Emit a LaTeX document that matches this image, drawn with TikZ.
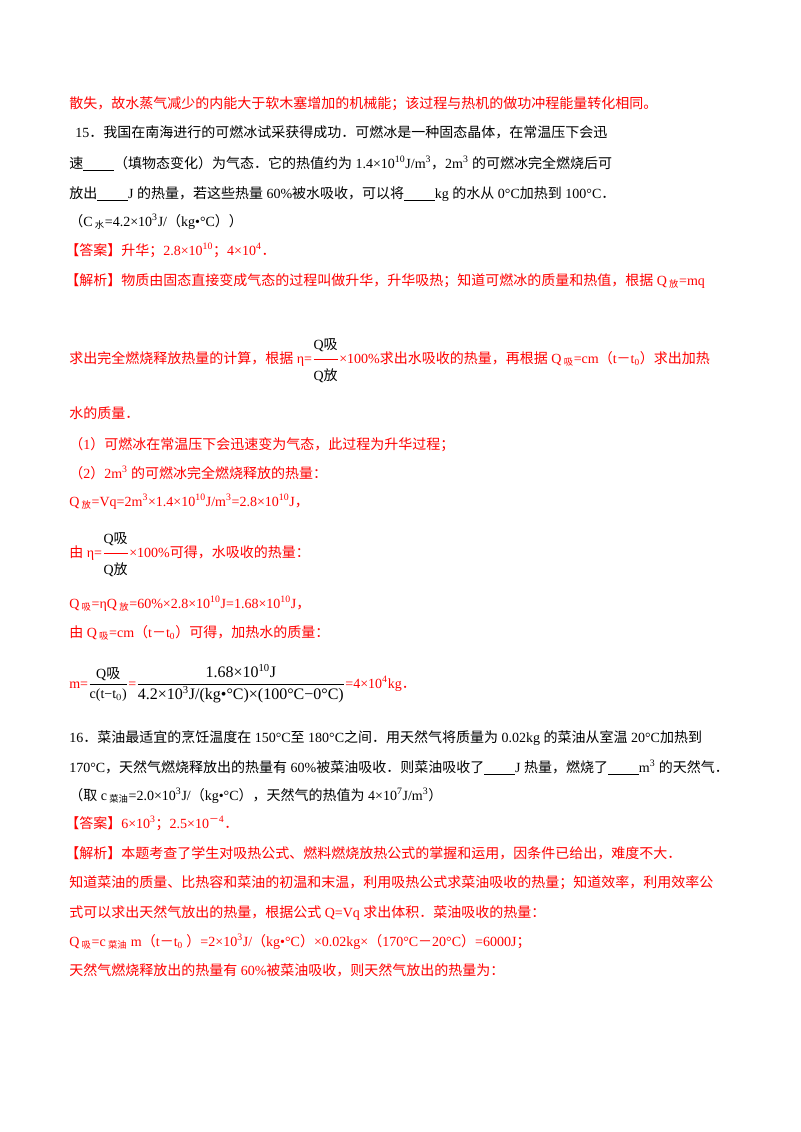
\documentclass[tikz,border=0pt]{standalone}
\usepackage{fontspec}
\usepackage{amsmath}
\setmainfont{Liberation Serif}
\newfontfamily\cjk{Noto Sans CJK SC}
% switch to the CJK font for CJK characters
\XeTeXinterchartokenstate=1
\newXeTeXintercharclass\CJKcls
\count255="3000
\loop\XeTeXcharclass\count255=\CJKcls\ifnum\count255<"9FFF\advance\count255 by 1\repeat
\count255="FF00
\loop\XeTeXcharclass\count255=\CJKcls\ifnum\count255<"FFEF\advance\count255 by 1\repeat
\XeTeXinterchartoks 0 \CJKcls={\begingroup\cjk}
\XeTeXinterchartoks 4095 \CJKcls={\begingroup\cjk}
\XeTeXinterchartoks \CJKcls 0={\endgroup}
\XeTeXinterchartoks \CJKcls 4095={\endgroup}
\newcommand\blank{\underline{\hspace{2.2em}}}
\newcommand\sub[1]{\textsubscript{\scriptsize #1}}
\newcommand\zh[1]{\mbox{#1}}
\begin{document}
\begin{tikzpicture}[x=0.75pt,y=-0.75pt,font=\fontsize{10.5}{12}\selectfont,
    line/.style={anchor=base west,inner sep=0pt},
    ans/.style={line,text=red}]
\useasboundingbox[fill=white] (0,0) rectangle (800,1132);
% question 15
\node[ans]  (a1)  at (69,108) {散失，故水蒸气减少的内能大于软木塞增加的机械能；该过程与热机的做功冲程能量转化相同。};
\node[line] (q1)  at (75,137) {15．我国在南海进行的可燃冰试采获得成功．可燃冰是一种固态晶体，在常温压下会迅};
\node[line] (q2)  at (69,168) {速\blank（填物态变化）为气态．它的热值约为 1.4×10\textsuperscript{10}J/m\textsuperscript{3}，2m\textsuperscript{3} 的可燃冰完全燃烧后可};
\node[line] (q3)  at (69,198) {放出\blank J 的热量，若这些热量 60\%被水吸收，可以将\blank kg 的水从 0°C加热到 100°C．};
\node[line] (q4)  at (69,226) {（C\sub{ 水}=4.2×10\textsuperscript{3}J/（kg•°C））};
\node[ans]  (a2)  at (65,255) {【答案】升华；2.8×10\textsuperscript{10}；4×10\textsuperscript{4}．};
\node[ans]  (a3)  at (65,285) {【解析】物质由固态直接变成气态的过程叫做升华，升华吸热；知道可燃冰的质量和热值，根据 Q\sub{ 放}=mq};
\node[ans]  (a4)  at (69,363) {求出完全燃烧释放热量的计算，根据 η=$\dfrac{\text{\color{black}Q吸}\rule[-6pt]{0pt}{20pt}}{\text{\color{black}Q放}\rule{0pt}{14pt}}$×100\%求出水吸收的热量，再根据 Q\sub{ 吸}=cm（t－t\sub{0}）求出加热};
\node[ans]  (a5)  at (69,418) {水的质量．};
\node[ans]  (a6)  at (69,449) {（1）可燃冰在常温压下会迅速变为气态，此过程为升华过程；};
\node[ans]  (a7)  at (69,478) {（2）2m\textsuperscript{3} 的可燃冰完全燃烧释放的热量：};
\node[ans]  (a8)  at (69,506) {Q\sub{ 放}=Vq=2m\textsuperscript{3}×1.4×10\textsuperscript{10}J/m\textsuperscript{3}=2.8×10\textsuperscript{10}J，};
\node[ans]  (a9)  at (69,557) {由 η=$\dfrac{\text{\color{black}Q吸}\rule[-6pt]{0pt}{20pt}}{\text{\color{black}Q放}\rule{0pt}{14pt}}$×100\%可得，水吸收的热量：};
\node[ans]  (a10) at (69,608) {Q\sub{ 吸}=ηQ\sub{ 放}=60\%×2.8×10\textsuperscript{10}J=1.68×10\textsuperscript{10}J，};
\node[ans]  (a11) at (69,637) {由 Q\sub{ 吸}=cm（t－t\sub{0}）可得，加热水的质量：};
\node[ans]  (a12) at (69,688) {m={\color{black}$\dfrac{\text{Q吸}}{\text{c(t−t$_0$)}}$}={\color{black}\large$\dfrac{\text{1.68×10\textsuperscript{10}J}}{\text{4.2×10\textsuperscript{3}J/(kg•°C)×(100°C−0°C)}}$}=4×10\textsuperscript{4}kg．};
% question 16
\node[line] (p1)  at (69,742) {16．菜油最适宜的烹饪温度在 150°C至 180°C之间．用天然气将质量为 0.02kg 的菜油从室温 20°C加热到};
\node[line] (p2)  at (69,772) {170°C，天然气燃烧释放出的热量有 60\%被菜油吸收．则菜油吸收了\blank J 热量，燃烧了\blank m\textsuperscript{3} 的天然气．};
\node[line] (p3)  at (69,800) {（取 c\sub{ 菜油}=2.0×10\textsuperscript{3}J/（kg•°C），天然气的热值为 4×10\textsuperscript{7}J/m\textsuperscript{3}）};
\node[ans]  (b1)  at (65,828) {【答案】6×10\textsuperscript{3}；2.5×10\textsuperscript{－4}．};
\node[ans]  (b2)  at (65,858) {【解析】本题考查了学生对吸热公式、燃料燃烧放热公式的掌握和运用，因条件已给出，难度不大．};
\node[ans]  (b3)  at (69,887) {知道菜油的质量、比热容和菜油的初温和末温，利用吸热公式求菜油吸收的热量；知道效率，利用效率公};
\node[ans]  (b4)  at (69,917) {式可以求出天然气放出的热量，根据公式 Q=Vq 求出体积．菜油吸收的热量：};
\node[ans]  (b5)  at (69,946) {Q\sub{ 吸}=c\sub{ 菜油} m（t－t\sub{0} ）=2×10\textsuperscript{3}J/（kg•°C）×0.02kg×（170°C－20°C）=6000J；};
\node[ans]  (b6)  at (69,975) {天然气燃烧释放出的热量有 60\%被菜油吸收，则天然气放出的热量为：};
\end{tikzpicture}
\end{document}
